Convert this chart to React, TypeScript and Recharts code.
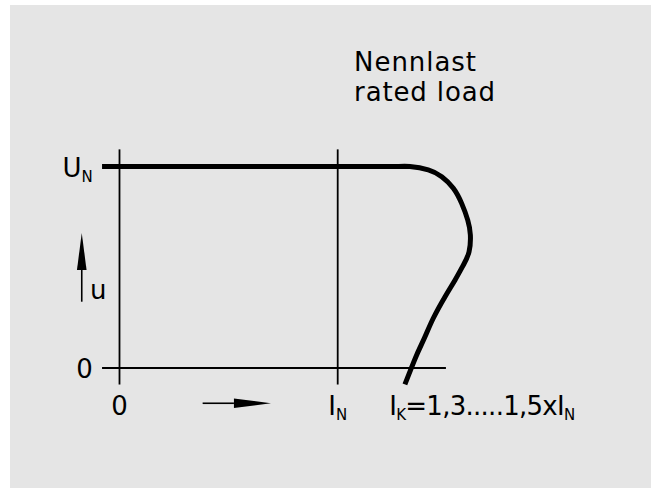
import { LineChart, Line, XAxis, YAxis, ReferenceLine, ReferenceDot } from "recharts";

// current in multiples of I_N, voltage in multiples of U_N
const xTicks = [0, 1, 1.236];
const xTickLabels = ["0", "I_N", "I_K=1,3.....1,5xI_N"];
const yTicks = [0, 1];
const yTickLabels = ["0", "U_N"];

// flat part at rated voltage
const ratedI = [-0.08, 1.331];
const ratedU = [1, 1];

// overload knee down to short-circuit current
const curveI = [1.28, 1.331, 1.415, 1.477, 1.53, 1.568, 1.596, 1.608, 1.602, 1.576, 1.538, 1.492, 1.438, 1.4, 1.362, 1.331, 1.308];
const curveU = [1, 1, 0.983, 0.949, 0.892, 0.817, 0.734, 0.66, 0.577, 0.511, 0.437, 0.354, 0.247, 0.155, 0.065, -0.018, -0.081];

// axis cross lines
const verticalGuides = [0, 1];
const verticalSpan = [-0.082, 1.085];
const zeroSpan = [-0.08, 1.496];

// arrows: [i, u] start -> end
const uArrow = [[-0.173, 0.329], [-0.173, 0.67]];
const iArrow = [[0.381, -0.175], [0.694, -0.175]];

const noteLines = ["Nennlast", "rated load"];
const noteI = [1.075, 1.075];
const noteU = [1.475, 1.327];
const uLabel = { text: "u", i: -0.135, u: 0.342 };

const ratedData = ratedI.map((i, k) => ({ i, u: ratedU[k] }));
const curveData = curveI.map((i, k) => ({ i, u: curveU[k] }));

const FONT = '"DejaVu Sans", "Liberation Sans", sans-serif';

function RichText({ x, y, text, anchor = "start", size = 26, length }: any) {
  const parts = text.split(/_(.)/);
  const sub = 15;
  const shift = 5;
  let lowered = false;
  const spans: any[] = [];
  parts.forEach((p: string, k: number) => {
    if (!p) return;
    const isSub = k % 2 === 1;
    let dy = 0;
    if (isSub && !lowered) { dy = shift; lowered = true; }
    else if (!isSub && lowered) { dy = -shift; lowered = false; }
    spans.push(<tspan key={k} dy={dy} fontSize={isSub ? sub : size}>{p}</tspan>);
  });
  return (
    <text x={x} y={y} textAnchor={anchor} fontFamily={FONT} fontSize={size} fill="#000"
      textLength={length} lengthAdjust={length ? "spacing" : undefined}>
      {spans}
    </text>
  );
}

const XTick = (props: any) => {
  const idx = xTicks.indexOf(props.payload.value);
  const last = idx === xTicks.length - 1;
  return <RichText x={props.x} y={props.y} text={xTickLabels[idx]} anchor={last ? "start" : "middle"} length={last ? 186 : undefined} />;
};

const YTick = (props: any) => {
  const idx = yTicks.indexOf(props.payload.value);
  return <RichText x={props.x} y={props.y + 10} text={yTickLabels[idx]} anchor="end" />;
};

const arrowShape = (p: any) => {
  const { x1, y1, x2, y2 } = p;
  const dx = x2 - x1, dy = y2 - y1;
  const len = Math.hypot(dx, dy) || 1;
  const ux = dx / len, uy = dy / len;
  const head = 37, half = 4.8;
  const bx = x2 - ux * head, by = y2 - uy * head;
  const nx = -uy, ny = ux;
  return (
    <g>
      <line x1={x1} y1={y1} x2={bx} y2={by} stroke="#000" strokeWidth={1.6} />
      <polygon points={`${x2},${y2} ${bx + nx * half},${by + ny * half} ${bx - nx * half},${by - ny * half}`} fill="#000" />
    </g>
  );
};

const noteWidths: Record<string, number> = { Nennlast: 122, "rated load": 141 };

export default function App() {
  return (
    <div style={{ position: "absolute", left: 0, top: 0, width: 651, height: 488, background: "#fff" }}>
      <div style={{ position: "absolute", left: 10, top: 5, right: 0, bottom: 0, background: "#e5e5e5" }} />
      <div style={{ position: "absolute", left: 0, top: 0 }}>
        <LineChart width={651} height={488} margin={{ top: 146.35, right: 160.56, bottom: 59.85, left: 37.68 }}>
          <XAxis type="number" dataKey="i" domain={[-0.1, 1.7]} ticks={xTicks} interval={0} height={40}
            axisLine={false} tickLine={false} tickSize={0} tickMargin={26.8} tick={XTick} allowDataOverflow />
          <YAxis type="number" dataKey="u" domain={[-0.1, 1.1]} ticks={yTicks} interval={0} width={60}
            axisLine={false} tickLine={false} tickSize={0} tickMargin={5} tick={YTick} allowDataOverflow />

          {verticalGuides.map((g) => (
            <ReferenceLine key={`v${g}`} ifOverflow="visible" stroke="#000" strokeWidth={1.8}
              segment={[{ x: g, y: verticalSpan[0] }, { x: g, y: verticalSpan[1] }]} />
          ))}
          <ReferenceLine ifOverflow="visible" stroke="#000" strokeWidth={1.8}
            segment={[{ x: zeroSpan[0], y: 0 }, { x: zeroSpan[1], y: 0 }]} />

          <ReferenceLine ifOverflow="visible" shape={arrowShape}
            segment={[{ x: uArrow[0][0], y: uArrow[0][1] }, { x: uArrow[1][0], y: uArrow[1][1] }]} />
          <ReferenceLine ifOverflow="visible" shape={arrowShape}
            segment={[{ x: iArrow[0][0], y: iArrow[0][1] }, { x: iArrow[1][0], y: iArrow[1][1] }]} />

          <Line data={ratedData} dataKey="u" type="linear" stroke="#000" strokeWidth={5} dot={false}
            activeDot={false} isAnimationActive={false} />
          <Line data={curveData} dataKey="u" type="natural" stroke="#000" strokeWidth={5} dot={false}
            activeDot={false} isAnimationActive={false} />

          {noteLines.map((t, k) => (
            <ReferenceDot key={t} x={noteI[k]} y={noteU[k]} r={0} ifOverflow="visible"
              shape={(p: any) => <RichText x={p.cx} y={p.cy} text={t} length={noteWidths[t]} />} />
          ))}
          <ReferenceDot x={uLabel.i} y={uLabel.u} r={0} ifOverflow="visible"
            shape={(p: any) => <RichText x={p.cx} y={p.cy} text={uLabel.text} />} />
        </LineChart>
      </div>
    </div>
  );
}
